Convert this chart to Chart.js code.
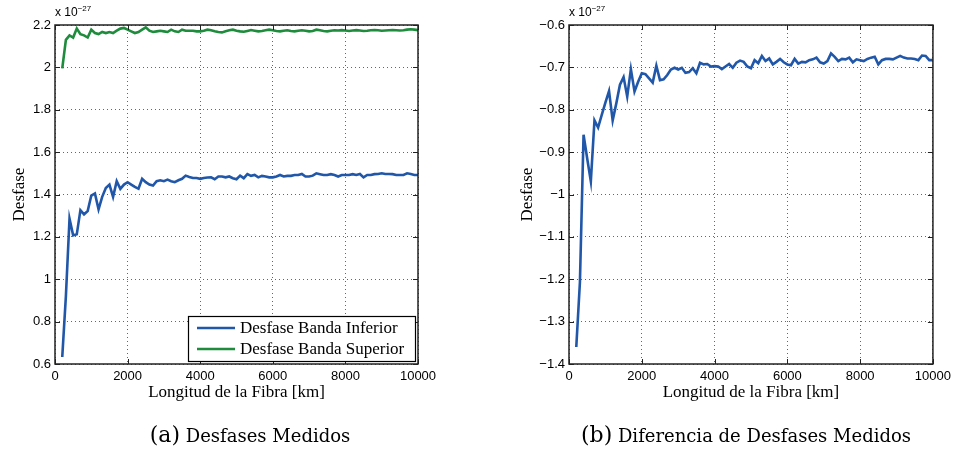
<!DOCTYPE html>
<html>
<head>
<meta charset="utf-8">
<script src="https://cdn.jsdelivr.net/npm/chart.js@4.4.1/dist/chart.umd.min.js"></script>
<style>
  body { margin: 0; background: #fff; width: 956px; height: 459px; position: relative; overflow: hidden; }
  canvas { position: absolute; top: 0; }
  #chartA { left: 0; }
  #chartB { left: 478px; }
  .exp { position: absolute; top: 4px; font-family: "Liberation Sans", Arial, sans-serif; font-size: 12px; color: #000; }
  .exp sup { font-size: 8px; }
  .cap { position: absolute; top: 422px; width: 420px; text-align: center; font-family: "DejaVu Serif", serif; font-size: 18px; color: #000; }
  .cap b { font-weight: normal; font-size: 22px; }
</style>
</head>
<body>
<canvas id="chartA" width="478" height="459"></canvas>
<canvas id="chartB" width="478" height="459"></canvas>
<div class="exp" style="left:55px">x 10<sup>&minus;27</sup></div>
<div class="exp" style="left:569px">x 10<sup>&minus;27</sup></div>
<div class="cap" style="left:40px"><b>(a)</b> Desfases Medidos</div>
<div class="cap" style="left:536px"><b>(b)</b> Diferencia de Desfases Medidos</div>
<script>
// fibre length [km]
const distances = [200, 300, 400, 500, 600, 700, 800, 900, 1000, 1100, 1200, 1300, 1400, 1500, 1600, 1700, 1800, 1900, 2000,
  2100, 2200, 2300, 2400, 2500, 2600, 2700, 2800, 2900, 3000, 3100, 3200, 3300, 3400, 3500, 3600, 3700, 3800, 3900, 4000,
  4100, 4200, 4300, 4400, 4500, 4600, 4700, 4800, 4900, 5000, 5100, 5200, 5300, 5400, 5500, 5600, 5700, 5800, 5900, 6000,
  6100, 6200, 6300, 6400, 6500, 6600, 6700, 6800, 6900, 7000, 7100, 7200, 7300, 7400, 7500, 7600, 7700, 7800, 7900, 8000,
  8100, 8200, 8300, 8400, 8500, 8600, 8700, 8800, 8900, 9000, 9100, 9200, 9300, 9400, 9500, 9600, 9700, 9800, 9900, 10000];

// values in units of 1e-27
const bandaInferior = [0.633, 0.92, 1.286, 1.207, 1.212, 1.326, 1.306, 1.322, 1.395, 1.405, 1.330, 1.389, 1.431, 1.447, 1.389, 1.463, 1.427, 1.447, 1.458,
  1.447, 1.436, 1.427, 1.474, 1.458, 1.447, 1.442, 1.463, 1.467, 1.463, 1.470, 1.463, 1.458, 1.467, 1.474, 1.489, 1.483, 1.478, 1.478, 1.474,
  1.478, 1.480, 1.481, 1.472, 1.485, 1.485, 1.481, 1.485, 1.477, 1.472, 1.489, 1.477, 1.496, 1.488, 1.492, 1.481, 1.488, 1.485, 1.481, 1.481,
  1.485, 1.492, 1.485, 1.488, 1.488, 1.492, 1.492, 1.497, 1.485, 1.485, 1.489, 1.500, 1.496, 1.492, 1.492, 1.496, 1.492, 1.485, 1.492, 1.492,
  1.492, 1.496, 1.492, 1.497, 1.481, 1.492, 1.492, 1.496, 1.497, 1.500, 1.497, 1.497, 1.496, 1.492, 1.492, 1.492, 1.500, 1.497, 1.492, 1.492];

const bandaSuperior = [1.995, 2.130, 2.151, 2.141, 2.183, 2.157, 2.151, 2.141, 2.178, 2.162, 2.157, 2.167, 2.162, 2.167, 2.162, 2.173, 2.183, 2.186, 2.178,
  2.170, 2.162, 2.167, 2.178, 2.189, 2.173, 2.167, 2.170, 2.173, 2.170, 2.167, 2.178, 2.170, 2.167, 2.178, 2.173, 2.173, 2.173, 2.170, 2.170,
  2.173, 2.178, 2.175, 2.170, 2.167, 2.165, 2.170, 2.175, 2.178, 2.173, 2.170, 2.168, 2.172, 2.176, 2.173, 2.170, 2.172, 2.175, 2.178, 2.175,
  2.172, 2.170, 2.173, 2.175, 2.172, 2.170, 2.173, 2.175, 2.173, 2.170, 2.172, 2.178, 2.175, 2.172, 2.170, 2.173, 2.175, 2.174, 2.176, 2.174,
  2.172, 2.174, 2.176, 2.174, 2.172, 2.173, 2.175, 2.176, 2.175, 2.173, 2.174, 2.175, 2.176, 2.175, 2.174, 2.175, 2.178, 2.180, 2.178, 2.176];

const diferencia = [-1.360, -1.207, -0.859, -0.915, -0.969, -0.825, -0.842, -0.812, -0.783, -0.756, -0.825, -0.785, -0.741, -0.723, -0.769, -0.704, -0.757, -0.734, -0.714,
  -0.716, -0.726, -0.736, -0.696, -0.730, -0.728, -0.718, -0.705, -0.701, -0.705, -0.701, -0.713, -0.711, -0.702, -0.714, -0.689, -0.693, -0.692, -0.698, -0.697,
  -0.698, -0.704, -0.698, -0.692, -0.701, -0.689, -0.684, -0.687, -0.698, -0.702, -0.683, -0.690, -0.673, -0.685, -0.679, -0.693, -0.687, -0.680, -0.688, -0.693,
  -0.695, -0.680, -0.691, -0.687, -0.688, -0.683, -0.681, -0.677, -0.688, -0.691, -0.685, -0.667, -0.675, -0.685, -0.680, -0.681, -0.677, -0.688, -0.681, -0.683,
  -0.685, -0.680, -0.677, -0.675, -0.693, -0.683, -0.680, -0.680, -0.681, -0.677, -0.673, -0.677, -0.679, -0.679, -0.680, -0.683, -0.672, -0.673, -0.683, -0.683];

const xTicks = [0, 2000, 4000, 6000, 8000, 10000];
const yTicksA = [0.6, 0.8, 1, 1.2, 1.4, 1.6, 1.8, 2, 2.2];
const yTicksB = [-1.4, -1.3, -1.2, -1.1, -1, -0.9, -0.8, -0.7, -0.6];

const BLUE = '#2157a8';
const GREEN = '#1e8c3c';
const tickFont = { family: '"Liberation Sans", Arial, sans-serif', size: 13 };
const titleFont = { family: '"Liberation Serif", "Times New Roman", serif', size: 17 };

function toPoints(values) {
  return distances.map((d, i) => ({ x: d, y: values[i] }));
}

function fmt(v) {
  const r = Math.round(v * 10) / 10;
  return (r < 0 ? '\u2212' : '') + String(Math.abs(r));
}

// box with inward ticks like matlab
const framePlugin = {
  id: 'frame',
  afterDatasetsDraw(chart) {
    const { ctx, chartArea: a, scales: { x, y } } = chart;
    ctx.save();
    ctx.strokeStyle = '#222';
    ctx.lineWidth = 1;
    ctx.beginPath();
    x.ticks.forEach(t => {
      const px = Math.round(x.getPixelForValue(t.value)) + 0.5;
      ctx.moveTo(px, a.bottom); ctx.lineTo(px, a.bottom - 5);
      ctx.moveTo(px, a.top); ctx.lineTo(px, a.top + 5);
    });
    y.ticks.forEach(t => {
      const py = Math.round(y.getPixelForValue(t.value)) + 0.5;
      ctx.moveTo(a.left, py); ctx.lineTo(a.left + 5, py);
      ctx.moveTo(a.right, py); ctx.lineTo(a.right - 5, py);
    });
    ctx.stroke();
    ctx.lineWidth = 1.5;
    ctx.strokeRect(a.left, a.top, a.right - a.left, a.bottom - a.top);
    ctx.restore();
  }
};

const boxLegend = {
  id: 'boxLegend',
  afterDraw(chart) {
    const { ctx, chartArea: a } = chart;
    const w = 227, h = 45;
    const left = a.right - w - 3, top = a.bottom - h - 3;
    ctx.save();
    ctx.fillStyle = '#fff';
    ctx.fillRect(left, top, w, h);
    ctx.strokeStyle = '#000';
    ctx.lineWidth = 1.2;
    ctx.strokeRect(left + 0.5, top + 0.5, w, h);
    ctx.font = '17px "Liberation Serif", "Times New Roman", serif';
    ctx.textBaseline = 'middle';
    chart.data.datasets.forEach((ds, i) => {
      const cy = top + 12 + i * 21;
      ctx.strokeStyle = ds.borderColor;
      ctx.lineWidth = 2.5;
      ctx.beginPath();
      ctx.moveTo(left + 9, cy); ctx.lineTo(left + 47, cy);
      ctx.stroke();
      ctx.fillStyle = '#000';
      ctx.fillText(ds.label, left + 52, cy + 1);
    });
    ctx.restore();
  }
};

function makeOptions(yMin, yMax, yStep, yTicks, axisWidth, padRight, yTitlePad) {
  return {
    responsive: false,
    animation: false,
    devicePixelRatio: 1,
    layout: { padding: { top: 25, right: padRight, bottom: 0, left: 0 } },
    plugins: { legend: { display: false }, tooltip: { enabled: false } },
    elements: { point: { radius: 0 }, line: { borderWidth: 2.6, tension: 0 } },
    scales: {
      x: {
        type: 'linear',
        min: 0, max: 10000,
        afterBuildTicks: s => { s.ticks = xTicks.map(v => ({ value: v })); },
        afterFit: s => { s.height = 95; },
        ticks: { font: tickFont, color: '#000', padding: 5, maxRotation: 0, callback: v => String(v) },
        grid: { color: '#666', lineWidth: 1, drawTicks: false },
        border: { display: false, dash: [1, 3] },
        title: { display: true, text: 'Longitud de la Fibra [km]', font: titleFont, color: '#000', padding: { top: 0, bottom: 56 } }
      },
      y: {
        min: yMin, max: yMax,
        afterBuildTicks: s => { s.ticks = yTicks.map(v => ({ value: v })); },
        afterFit: s => { s.width = axisWidth; },
        ticks: { font: tickFont, color: '#000', padding: 4, callback: v => fmt(v) },
        grid: { color: '#666', lineWidth: 1, drawTicks: false },
        border: { display: false, dash: [1, 3] },
        title: { display: true, text: 'Desfase', font: titleFont, color: '#000', padding: { top: yTitlePad, bottom: 0 } }
      }
    }
  };
}

new Chart(document.getElementById('chartA'), {
  type: 'line',
  data: {
    datasets: [
      { label: 'Desfase Banda Inferior', data: toPoints(bandaInferior), borderColor: BLUE, backgroundColor: BLUE },
      { label: 'Desfase Banda Superior', data: toPoints(bandaSuperior), borderColor: GREEN, backgroundColor: GREEN }
    ]
  },
  options: makeOptions(0.6, 2.2, 0.2, yTicksA, 55, 60, 9),
  plugins: [framePlugin, boxLegend]
});

new Chart(document.getElementById('chartB'), {
  type: 'line',
  data: {
    datasets: [
      { label: 'Diferencia', data: toPoints(diferencia), borderColor: BLUE, backgroundColor: BLUE }
    ]
  },
  options: makeOptions(-1.4, -0.6, 0.1, yTicksB, 91, 23, 39),
  plugins: [framePlugin]
});
</script>
</body>
</html>
